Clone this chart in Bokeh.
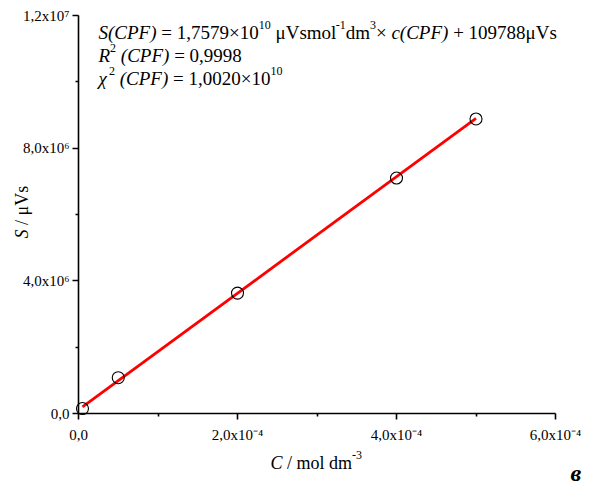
import numpy as np
from bokeh.plotting import figure
from bokeh.models import Label, FixedTicker, Range1d
from bokeh.embed import file_html
from bokeh.resources import INLINE

# ---- data ----
conc = [5e-6, 5e-5, 2e-4, 4e-4, 5e-4]          # mol dm^-3
signal = [1.5e5, 1.08e6, 3.63e6, 7.10e6, 8.88e6]  # µVs
slope = 1.7579e10
intercept = 109788.0
x_ticks = [0, 2e-4, 4e-4, 6e-4]
x_minor = [1e-4, 3e-4, 5e-4]
x_tick_labels = ["0,0", "2,0x10⁻⁴", "4,0x10⁻⁴", "6,0x10⁻⁴"]
y_ticks = [0, 4e6, 8e6, 1.2e7]
y_minor = [2e6, 6e6, 1e7]
y_tick_labels = ["0,0", "4,0x10⁶", "8,0x10⁶", "1,2x10⁷"]
X_MAX, Y_MAX = 6e-4, 1.2e7

# ---- layout: the frame fills the canvas, axes are drawn at a fixed location ----
W, H = 597, 486
AX_L, AX_R, AX_T, AX_B = 78, 555, 15, 413   # pixel box of the axes
FONT = "Liberation Serif"

def dx(px):
    return (px - AX_L) / (AX_R - AX_L) * X_MAX

def dy(py):
    return (AX_B - py) / (AX_B - AX_T) * Y_MAX

p = figure(width=W, height=H, output_backend="svg", toolbar_location=None,
           x_range=Range1d(dx(0), dx(W)), y_range=Range1d(dy(H), dy(0)),
           min_border=0)
p.outline_line_color = None
p.grid.visible = False
p.background_fill_color = "white"
p.border_fill_color = "white"

fit_x = [conc[0], conc[-1]]
fit_y = [slope * c + intercept for c in fit_x]
p.line(fit_x, fit_y, line_color="#ff0000", line_width=2.8)
p.scatter(conc, signal, marker="circle", size=12, fill_color=None,
          line_color="black", line_width=1.1)

for ax, ticks, minor, labels, top in [(p.xaxis[0], x_ticks, x_minor, x_tick_labels, X_MAX),
                                      (p.yaxis[0], y_ticks, y_minor, y_tick_labels, Y_MAX)]:
    ax.fixed_location = 0
    ax.bounds = (0, top)
    ax.ticker = FixedTicker(ticks=ticks, minor_ticks=minor)
    ax.major_label_overrides = {t: l for t, l in zip(ticks, labels)}
    ax.axis_line_width = 1.6
    ax.axis_line_color = "black"
    ax.major_tick_line_width = 1.6
    ax.minor_tick_line_width = 1.6
    ax.major_tick_line_color = "black"
    ax.minor_tick_line_color = "black"
    ax.major_tick_out = 6
    ax.major_tick_in = 0
    ax.minor_tick_out = 3
    ax.minor_tick_in = 0
    ax.major_label_text_font = FONT
    ax.major_label_text_font_size = "15px"
    ax.major_label_text_color = "black"
    ax.axis_label = None
p.xaxis[0].major_label_standoff = 7
p.yaxis[0].major_label_standoff = 3

REG = {d: .5 for d in "0123456789"}
REG.update({",": .25, " ": .25, "=": .564, "×": .564, "+": .564, "μ": .5, "V": .722,
            "s": .389, "m": .778, "o": .5, "l": .278, "d": .5, "-": .333, "x": .5,
            "/": .278, "(": .333, ")": .333})
ITA = {"S": .5, "(": .333, ")": .333, "C": .667, "P": .611, "F": .611, "c": .444,
       "R": .611, "χ": .55, " ": .25}

def width(txt, size, italic):
    tab = ITA if italic else REG
    return sum(tab.get(ch, .5) for ch in txt) * size

def label(txt, px, py, fs, style, ang=0.0):
    p.add_layout(Label(x=dx(px), y=dy(py), text=txt, text_font=FONT,
                       text_font_size=f"{fs}px", text_font_style=style,
                       text_color="black", text_align="left",
                       text_baseline="alphabetic", angle=ang))

def run(pieces, x0, base, size, sup_size, rot=False):
    pos = x0
    for txt, kind in pieces:
        italic = "i" in kind
        sup = kind.startswith("sup")
        fs = sup_size if sup else size
        shift = size * 0.42 if sup else 0
        lead = len(txt) - len(txt.lstrip(" "))
        pos = pos - lead * .25 * fs if rot else pos + lead * .25 * fs
        core = txt.strip(" ")
        style = "italic" if italic else "normal"
        if rot:
            label(core, base - shift, pos, fs, style, np.pi / 2)
        else:
            label(core, pos, base - shift, fs, style)
        w = width(txt[lead:], fs, italic)
        pos = pos - w if rot else pos + w

EQ, SUP = 19, 12
run([("S(CPF)", "i"), (" = 1,7579×10", "n"), ("10", "sup"), (" μVsmol", "n"),
     ("-1", "sup"), ("dm", "n"), ("3", "sup"), ("× ", "n"), ("c(CPF)", "i"),
     (" + 109788μVs", "n")], 98, 32, EQ, SUP)
run([("R", "i"), ("2", "sup"), (" (CPF)", "i"), (" = 0,9998", "n")], 98, 55, EQ, SUP)
run([("χ", "i"), ("2", "sup"), (" (CPF)", "i"), (" = 1,0020×10", "n"), ("10", "sup")],
    98, 78, EQ, SUP)

# axis titles
run([("C", "i"), (" / mol dm", "n"), ("-3", "sup")], 270, 462, 18, 12)
run([("S", "i"), (" / μVs", "n")], 238, 21, 18, 12, rot=True)

label("в", 570, 472, 24, "bold italic")

open("out.html", "w").write(file_html(p, INLINE))
